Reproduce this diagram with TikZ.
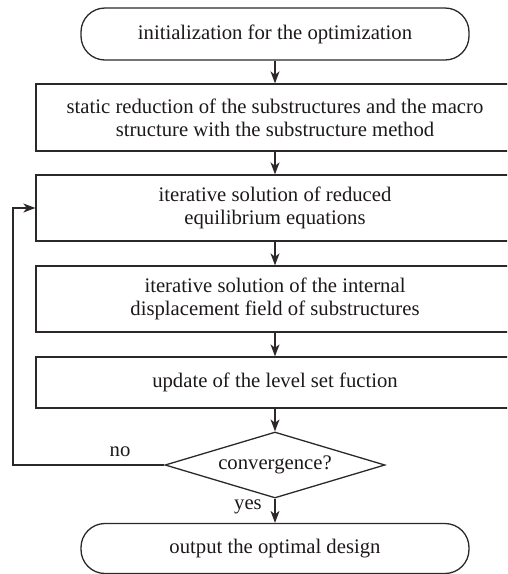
\documentclass[tikz,border=0pt]{standalone}
\usepackage{fontspec}
\setmainfont{Liberation Serif}
\usetikzlibrary{shapes.geometric,arrows.meta}
\definecolor{ln}{RGB}{45,40,40}
\definecolor{tx}{RGB}{30,25,25}
\begin{document}
\begin{tikzpicture}[x=1pt,y=-1pt,
  every node/.style={font=\fontsize{20.7}{23}\selectfont,text=tx,align=center,inner sep=0pt},
  term/.style={draw=ln,line width=1.3pt,rounded corners=24pt,minimum width=388pt},
  procbox/.style={draw=ln,line width=1.3pt,minimum width=478pt},
  decide/.style={draw=ln,line width=1.3pt,diamond,aspect=3.33,minimum width=220pt,minimum height=66pt},
  conn/.style={draw=ln,line width=1.3pt,-{Stealth[length=12pt,width=9pt,inset=3.5pt]}},
  lab/.style={font=\fontsize{20.7}{23}\selectfont}]
\useasboundingbox (0,0) rectangle (507,574);
\clip (0,0) rectangle (507,574);
\node[term,minimum height=52pt] (init) at (275,34) {initialization for the optimization};
\node[procbox,minimum height=67pt] (red) at (275,117.5) {static reduction of the substructures and the macro\\structure with the substructure method};
\node[procbox,minimum height=66pt] (eq) at (275,208) {iterative solution of reduced\\equilibrium equations};
\node[procbox,minimum height=66pt] (disp) at (275,299) {iterative solution of the internal\\displacement field of substructures};
\node[procbox,minimum height=51pt] (upd) at (275,382.5) {update of the level set fuction};
\node[decide] (conv) at (275,465) {convergence?};
\node[term,minimum height=50pt] (out) at (275,548.5) {output the optimal design};
\node[lab] (no) at (120,452) {no};
\node[lab] (yes) at (248,507) {yes};
\coordinate (fb) at (13,465);
\draw[conn] (init) -- (red);
\draw[conn] (red) -- (eq);
\draw[conn] (eq) -- (disp);
\draw[conn] (disp) -- (upd);
\draw[conn] (upd) -- (conv);
\draw[conn] (conv) -- (out);
\draw[conn] (conv.west) -- (fb) |- (eq.west);
\end{tikzpicture}
\end{document}
